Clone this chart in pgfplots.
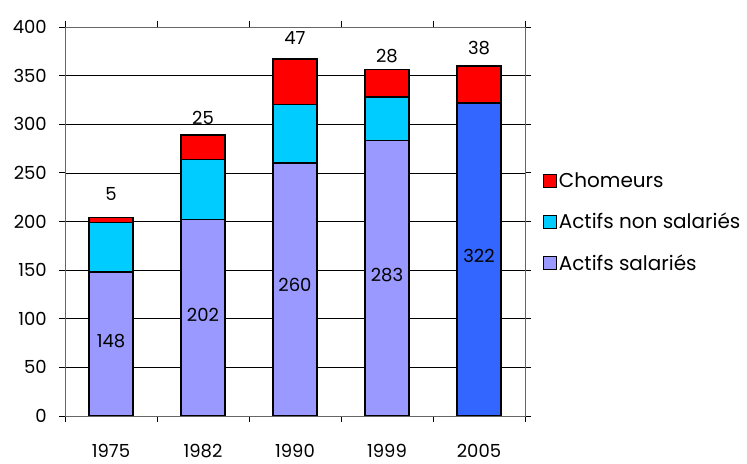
\documentclass[border=0pt]{standalone}
\usepackage{pgfplots}
\pgfplotsset{compat=1.18}
\usepackage{fontspec}
\setmainfont{Poppins}
\definecolor{sal}{HTML}{9999FF}
\definecolor{sal5}{HTML}{3366FF}
\definecolor{nsal}{HTML}{00CCFF}
\definecolor{chom}{HTML}{FF0000}
\begin{document}
\fontsize{18bp}{21bp}\selectfont
\begin{tikzpicture}
\useasboundingbox (-65bp,-48bp) rectangle (682bp,416bp);
\begin{axis}[
  scale only axis,
  width=460bp, height=389bp,
  ybar stacked,
  bar width=44bp,
  xmin=-0.5, xmax=4.5,
  ymin=0, ymax=400,
  xtick={0,1,2,3,4},
  xticklabels={1975,1982,1990,1999,2005},
  minor xtick={-0.5,0.5,1.5,2.5,3.5,4.5},
  ytick={0,50,...,400},
  tick align=outside,
  major tick length=6bp,
  minor tick length=6bp,
  xtick style={draw=none},
  minor x tick style={draw=black, line width=0.8pt},
  y tick style={draw=black, line width=0.8pt},
  ymajorgrids,
  grid style={black, line width=0.7pt},
  axis line style={black!60, line width=0.8pt},
  xticklabel style={yshift=-16bp},
  yticklabel style={xshift=-6bp},
  /pgf/number format/assume math mode=true,
  every tick label/.append style={font=\fontsize{18bp}{21bp}\selectfont},
  reverse legend,
  legend style={draw=none, fill=none, at={(1.038,0.497)}, anchor=west,
    font=\fontsize{20bp}{23bp}\selectfont, row sep=19bp, inner sep=0pt},
  legend cell align=left,
  legend image code/.code={\draw[line width=1.2pt, #1] (-5bp,-6bp) rectangle (8bp,7bp);},
]
\addplot[fill=sal, draw=black, line width=1.4pt] coordinates {(0,148) (1,202) (2,260) (3,283) (4,0)};
\addlegendentry{Actifs salariés}
\addplot[fill=sal5, draw=black, line width=1.4pt, forget plot] coordinates {(0,0) (1,0) (2,0) (3,0) (4,322)};
\addplot[fill=nsal, draw=black, line width=1.4pt] coordinates {(0,51) (1,62) (2,60) (3,45) (4,0)};
\addlegendentry{Actifs non salariés}
\addplot[fill=chom, draw=black, line width=1.4pt] coordinates {(0,5) (1,25) (2,47) (3,28) (4,38)};
\addlegendentry{Chomeurs}
\coordinate (s0) at (axis cs:0,77);
\coordinate (s1) at (axis cs:1,104);
\coordinate (s2) at (axis cs:2,135);
\coordinate (s3) at (axis cs:3,145);
\coordinate (s4) at (axis cs:4,165);
\coordinate (c0) at (axis cs:0,228);
\coordinate (c1) at (axis cs:1,307);
\coordinate (c2) at (axis cs:2,389);
\coordinate (c3) at (axis cs:3,370);
\coordinate (c4) at (axis cs:4,378);
\end{axis}
\node at (s0) {148};
\node at (s1) {202};
\node at (s2) {260};
\node at (s3) {283};
\node at (s4) {322};
\node at (c0) {5};
\node at (c1) {25};
\node at (c2) {47};
\node at (c3) {28};
\node at (c4) {38};
\end{tikzpicture}
\end{document}
